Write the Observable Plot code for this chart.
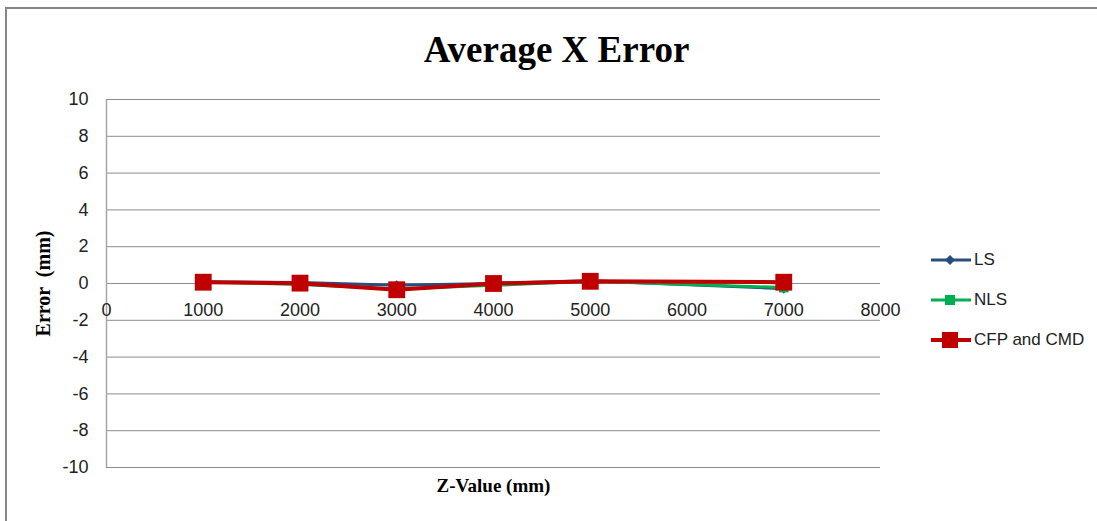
<!DOCTYPE html>
<html><head><meta charset="utf-8">
<script src="https://cdn.jsdelivr.net/npm/d3@7"></script>
<script src="https://cdn.jsdelivr.net/npm/@observablehq/plot@0.6"></script>
<style>
html,body{margin:0;padding:0;background:#fff;}
#wrap{position:relative;width:1097px;height:521px;overflow:hidden;}
#border{position:absolute;left:5px;top:7px;width:1200px;height:600px;border:2px solid #868686;box-sizing:border-box;}
#legend{position:absolute;left:930px;top:240px;font-family:"Liberation Sans",Arial,sans-serif;font-size:17px;color:#222;}
#legend .it{display:flex;align-items:center;height:40px;}
#legend svg{display:block;margin-right:2px;}
</style></head>
<body><div id="wrap"><div id="border"></div><div id="chart" style="position:absolute;left:0;top:0"></div><div id="legend"></div></div>
<script>
const zValues = [1000, 2000, 3000, 4000, 5000, 7000];
const lsErr  = [0.1, 0.05, -0.1, 0.0, 0.15, -0.28];
const nlsErr = [0.08, -0.05, -0.3, -0.1, 0.12, -0.22];
const cfpErr = [0.07, 0.02, -0.34, 0.0, 0.12, 0.07];
const seriesNames = ["LS", "NLS", "CFP and CMD"];
const seriesColors = ["#2A4E7C", "#00B050", "#C00000"];
const xTicks = [0, 1000, 2000, 3000, 4000, 5000, 6000, 7000, 8000];
const yTicks = [-10, -8, -6, -4, -2, 0, 2, 4, 6, 8, 10];

const rows = [];
[lsErr, nlsErr, cfpErr].forEach((arr, si) => arr.forEach((v, i) => rows.push({series: seriesNames[si], z: zValues[i], err: v})));
const ofS = s => rows.filter(d => d.series === s);

const serif = '"Liberation Serif","Times New Roman",serif';
const plot = Plot.plot({
  width: 1097, height: 521,
  marginLeft: 106, marginRight: 217, marginTop: 99, marginBottom: 54,
  style: {fontFamily: '"Liberation Sans",Arial,sans-serif', fontSize: "18px", background: "transparent", color: "#222"},
  x: {domain: [0, 8000], axis: null},
  y: {domain: [-10, 10], axis: null},
  marks: [
    Plot.gridY(yTicks, {stroke: "#8c8c8c", strokeOpacity: 1, strokeWidth: 1}),
    Plot.ruleX([0], {stroke: "#a6a6a6", strokeWidth: 1.5}),
    Plot.text(yTicks, {x: 0, y: d => d, text: d => String(d), textAnchor: "end", dx: -18, fontSize: 18}),
    Plot.text(xTicks, {x: d => d, y: 0, text: d => String(d), dy: 27, fontSize: 18}),
    Plot.line(ofS("LS"), {x: "z", y: "err", stroke: seriesColors[0], strokeWidth: 3}),
    Plot.dot(ofS("LS"), {x: "z", y: "err", symbol: "diamond2", r: 4.5, fill: seriesColors[0]}),
    Plot.line(ofS("NLS"), {x: "z", y: "err", stroke: seriesColors[1], strokeWidth: 3}),
    Plot.dot(ofS("NLS"), {x: "z", y: "err", symbol: "square", r: 5.5, fill: seriesColors[1]}),
    Plot.line(ofS("CFP and CMD"), {x: "z", y: "err", stroke: seriesColors[2], strokeWidth: 4}),
    Plot.dot(ofS("CFP and CMD"), {x: "z", y: "err", symbol: "square", r: 9.5, fill: seriesColors[2]}),
    Plot.text(["Average X Error"], {frameAnchor: "top-left", dx: 450, dy: -49, textAnchor: "middle", lineAnchor: "middle", text: d => d, fontFamily: serif, fontWeight: "bold", fontSize: 37, fill: "#000"}),
    Plot.text(["Z-Value (mm)"], {frameAnchor: "bottom", dy: 18, lineAnchor: "middle", textAnchor: "middle", text: d => d, fontFamily: serif, fontWeight: "bold", fontSize: 19, fill: "#000"}),
    Plot.text(["Error  (mm)"], {frameAnchor: "left", dx: -63, rotate: -90, textAnchor: "middle", lineAnchor: "middle", text: d => d, fontFamily: serif, fontWeight: "bold", fontSize: 20, fill: "#000"})
  ]
});
document.getElementById("chart").appendChild(plot);

const legend = document.getElementById("legend");
const sym = [
  '<polygon points="20,1 25,6 20,11 15,6" fill="#2A4E7C"/>',
  '<rect x="15" y="1" width="10" height="10" fill="#00B050"/>',
  '<rect x="12" y="-2" width="16" height="16" fill="#C00000"/>'
];
seriesNames.forEach((n, i) => {
  const d = document.createElement("div");
  d.className = "it";
  d.innerHTML = `<svg width="42" height="14" viewBox="0 -1 42 14" overflow="visible"><line x1="1" x2="41" y1="6" y2="6" stroke="${seriesColors[i]}" stroke-width="${i===2?4:3}"/>${sym[i]}</svg><span>${n}</span>`;
  legend.appendChild(d);
});
</script></body></html>
